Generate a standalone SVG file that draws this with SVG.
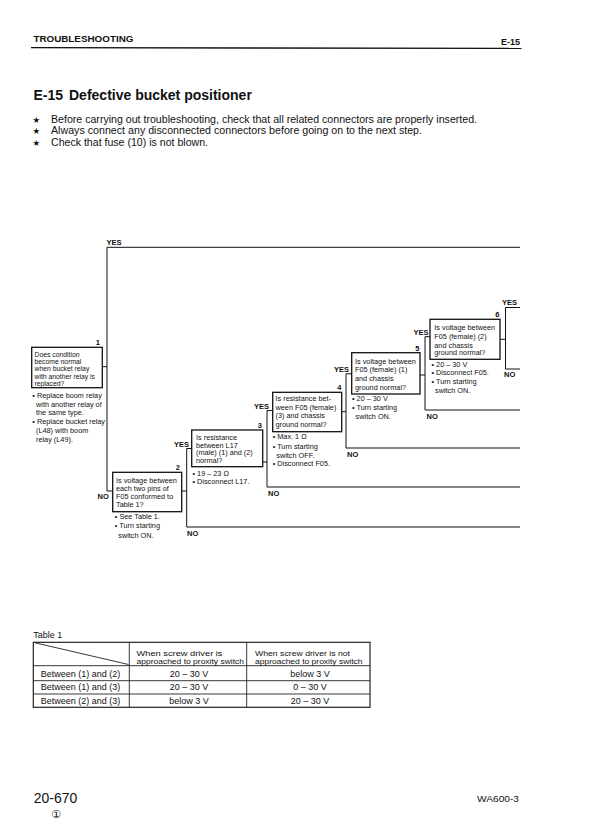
<svg xmlns="http://www.w3.org/2000/svg" width="596" height="834" viewBox="0 0 596 834">
<style>
text{font-family:"Liberation Sans",Arial,Helvetica,sans-serif;fill:#111}
.hd{font-size:9px;font-weight:bold}
.title{font-size:14px;font-weight:bold}
.intro{font-size:10.5px}
.star{font-family:"DejaVu Sans",sans-serif;font-size:8.5px}
.bx{font-size:7.3px}
.bx1{font-size:6.8px}
.nt{font-size:7.3px}
.yn{font-size:7.5px;font-weight:bold}
.ye{font-size:7.5px;font-weight:bold;text-anchor:end}
.num{font-size:7.5px;font-weight:bold;text-anchor:end}
.tb{font-size:9px}
.th{font-size:7.5px}
.mid{text-anchor:middle}
.box{fill:#fff;stroke:#111;stroke-width:1.3}
.ln{fill:none;stroke:#111;stroke-width:1}
.tl{fill:none;stroke:#222;stroke-width:0.9}
</style>

<!-- header -->
<g id="header">
<text class="hd" x="33.4" y="42" textLength="100" lengthAdjust="spacingAndGlyphs">TROUBLESHOOTING</text>
<text class="hd" x="501" y="45.3" textLength="19" lengthAdjust="spacingAndGlyphs">E-15</text>
<line x1="31" y1="47.6" x2="521.5" y2="48.4" stroke="#111" stroke-width="1.4"/>
</g>

<g id="title">
<text class="title" y="100"><tspan x="33.4">E-15</tspan><tspan x="69">Defective bucket positioner</tspan></text>
</g>

<g id="intro">
<text class="star" x="32.5" y="122.5">★</text>
<text class="intro" x="51" y="122.5" textLength="426" lengthAdjust="spacingAndGlyphs">Before carrying out troubleshooting, check that all related connectors are properly inserted.</text>
<text class="star" x="32.5" y="134">★</text>
<text class="intro" x="51" y="134" textLength="371" lengthAdjust="spacingAndGlyphs">Always connect any disconnected connectors before going on to the next step.</text>
<text class="star" x="32.5" y="146">★</text>
<text class="intro" x="51" y="146" textLength="157" lengthAdjust="spacingAndGlyphs">Check that fuse (10) is not blown.</text>
</g>

<!-- connectors -->
<g id="connectors">
<!-- node 1 -->
<text class="yn" x="106.5" y="245.3">YES</text>
<polyline class="ln" points="520,247.3 107,247.3 107,491 112.7,491"/>
<line class="ln" x1="102.3" y1="366.7" x2="107" y2="366.7"/>
<text class="yn" x="97.5" y="498.8">NO</text>
<!-- node 2 -->
<line class="ln" x1="181.7" y1="491" x2="186.7" y2="491"/>
<polyline class="ln" points="191.7,448.5 186.7,448.5 186.7,527 520,527"/>
<text class="ye" x="189" y="447.3">YES</text>
<text class="yn" x="187" y="535.5">NO</text>
<!-- node 3 -->
<line class="ln" x1="262.7" y1="462" x2="267" y2="462"/>
<polyline class="ln" points="272.7,410.5 267,410.5 267,487 520,487"/>
<text class="ye" x="269" y="409.3">YES</text>
<text class="yn" x="268" y="496">NO</text>
<!-- node 4 -->
<line class="ln" x1="341.7" y1="411.7" x2="346" y2="411.7"/>
<polyline class="ln" points="351.7,373.8 346,373.8 346,448 520,448"/>
<text class="ye" x="349" y="372">YES</text>
<text class="yn" x="347" y="457">NO</text>
<!-- node 5 -->
<line class="ln" x1="420" y1="375" x2="425" y2="375"/>
<polyline class="ln" points="430,336.7 425,336.7 425,410 520,410"/>
<text class="ye" x="428.5" y="335.2">YES</text>
<text class="yn" x="426.5" y="418.5">NO</text>
<!-- node 6 -->
<line class="ln" x1="500" y1="339.3" x2="505.5" y2="339.3"/>
<polyline class="ln" points="520,307.5 505.5,307.5 505.5,369 520,369"/>
<text class="yn" x="502" y="305.3">YES</text>
<text class="yn" x="504" y="377">NO</text>
</g>

<!-- node 1 -->
<g id="node1">
<text class="num" x="100" y="345">1</text>
<rect class="box" x="31.7" y="347.3" width="70.6" height="40.4"/>
<text class="bx1" x="34.5" y="356.5">Does condition</text>
<text class="bx1" x="34.5" y="364">become normal</text>
<text class="bx1" x="34.5" y="371.3">when bucket relay</text>
<text class="bx1" x="34.5" y="378.6">with another relay is</text>
<text class="bx1" x="34.5" y="385.9">replaced?</text>
<text class="nt" x="32.3" y="397.7">• Replace boom relay</text>
<text class="nt" x="36" y="406.6">with another relay of</text>
<text class="nt" x="36" y="415.4">the same type.</text>
<text class="nt" x="32.3" y="424.3">• Replace bucket relay</text>
<text class="nt" x="36" y="433.2">(L48) with boom</text>
<text class="nt" x="36" y="442">relay (L49).</text>
</g>

<!-- node 2 -->
<g id="node2">
<text class="num" x="180" y="470">2</text>
<rect class="box" x="112.7" y="472.3" width="69" height="39.4"/>
<text class="bx" x="116" y="483.3">Is voltage between</text>
<text class="bx" x="116" y="491.2">each two pins of</text>
<text class="bx" x="116" y="499.3">F05 conformed to</text>
<text class="bx" x="116" y="507.2">Table 1?</text>
<text class="nt" x="114.8" y="519.3">• See Table 1.</text>
<text class="nt" x="114.8" y="528.4">• Turn starting</text>
<text class="nt" x="118.3" y="537.5">switch ON.</text>
</g>

<!-- node 3 -->
<g id="node3">
<text class="num" x="262" y="428">3</text>
<rect class="box" x="191.7" y="430" width="71" height="36.7"/>
<text class="bx" x="196" y="440">Is resistance</text>
<text class="bx" x="196" y="447.6">between L17</text>
<text class="bx" x="196" y="455.1">(male) (1) and (2)</text>
<text class="bx" x="196" y="462.7">normal?</text>
<text class="nt" x="192.5" y="476">• 19 – 23 Ω</text>
<text class="nt" x="192.5" y="483.7">• Disconnect L17.</text>
</g>

<!-- node 4 -->
<g id="node4">
<text class="num" x="341.5" y="389.5">4</text>
<rect class="box" x="272.7" y="392.3" width="69" height="39.4"/>
<text class="bx" x="275.5" y="400.6">Is resistance bet-</text>
<text class="bx" x="275.5" y="409.5">ween F05 (female)</text>
<text class="bx" x="275.5" y="418.4">(3) and chassis</text>
<text class="bx" x="275.5" y="426.8">ground normal?</text>
<text class="nt" x="272.7" y="439.4">• Max. 1 Ω</text>
<text class="nt" x="272.7" y="448.6">• Turn starting</text>
<text class="nt" x="276.3" y="458">switch OFF.</text>
<text class="nt" x="272.7" y="466.2">• Disconnect F05.</text>
</g>

<!-- node 5 -->
<g id="node5">
<text class="num" x="419.5" y="350.5">5</text>
<rect class="box" x="351.7" y="352.7" width="68.3" height="41.3"/>
<text class="bx" x="355" y="363.5">Is voltage between</text>
<text class="bx" x="355" y="372.3">F05 (female) (1)</text>
<text class="bx" x="355" y="380.7">and chassis</text>
<text class="bx" x="355" y="389.5">ground normal?</text>
<text class="nt" x="352" y="400.6">• 20 – 30 V</text>
<text class="nt" x="352" y="410.2">• Turn starting</text>
<text class="nt" x="355.6" y="419.4">switch ON.</text>
</g>

<!-- node 6 -->
<g id="node6">
<text class="num" x="499.5" y="316.5">6</text>
<rect class="box" x="430" y="319.3" width="70" height="40"/>
<text class="bx" x="434.3" y="330">Is voltage between</text>
<text class="bx" x="434.3" y="338.7">F05 (female) (2)</text>
<text class="bx" x="434.3" y="347.5">and chassis</text>
<text class="bx" x="434.3" y="355.4">ground normal?</text>
<text class="nt" x="431.5" y="366.6">• 20 – 30 V</text>
<text class="nt" x="431.5" y="375">• Disconnect F05.</text>
<text class="nt" x="431.5" y="384.3">• Turn starting</text>
<text class="nt" x="435" y="392.7">switch ON.</text>
</g>

<!-- table -->
<g id="table1">
<text class="tb" x="33.3" y="637.5">Table 1</text>
<rect x="33.3" y="642.3" width="336.7" height="65" fill="none" stroke="#222" stroke-width="1.2"/>
<line class="tl" x1="129.3" y1="642.3" x2="129.3" y2="707.3"/>
<line class="tl" x1="246.7" y1="642.3" x2="246.7" y2="707.3"/>
<line class="tl" x1="33.3" y1="665.7" x2="370" y2="665.7"/>
<line class="tl" x1="33.3" y1="680.7" x2="370" y2="680.7"/>
<line class="tl" x1="33.3" y1="694" x2="370" y2="694"/>
<line class="tl" x1="35" y1="642.8" x2="128.5" y2="664.5"/>
<text class="th" x="136.5" y="655.6" textLength="86" lengthAdjust="spacingAndGlyphs">When screw driver is</text>
<text class="th" x="136.5" y="663.5" textLength="107.5" lengthAdjust="spacingAndGlyphs">approached to proxity switch</text>
<text class="th" x="255" y="655.6" textLength="95" lengthAdjust="spacingAndGlyphs">When screw driver is not</text>
<text class="th" x="255" y="663.5" textLength="107.5" lengthAdjust="spacingAndGlyphs">approached to proxity switch</text>
<text class="tb" x="40.7" y="676.5">Between (1) and (2)</text>
<text class="tb mid" x="189" y="676.5">20 – 30 V</text>
<text class="tb mid" x="310" y="676.5">below 3 V</text>
<text class="tb" x="40.7" y="690.4">Between (1) and (3)</text>
<text class="tb mid" x="189" y="690.4">20 – 30 V</text>
<text class="tb mid" x="310" y="690.4">0 – 30 V</text>
<text class="tb" x="40.7" y="704.2">Between (2) and (3)</text>
<text class="tb mid" x="189" y="704.2">below 3 V</text>
<text class="tb mid" x="310" y="704.2">20 – 30 V</text>
</g>

<!-- footer -->
<g id="footer">
<text x="33.8" y="803.3" style="font-size:15px" textLength="43.5" lengthAdjust="spacingAndGlyphs">20-670</text>
<text x="56" y="818" style="font-family:'DejaVu Sans','Noto Sans CJK JP',sans-serif;font-size:11px;text-anchor:middle">①</text>
<text x="477" y="802" style="font-size:9.5px" textLength="42" lengthAdjust="spacingAndGlyphs">WA600-3</text>
</g>
</svg>
